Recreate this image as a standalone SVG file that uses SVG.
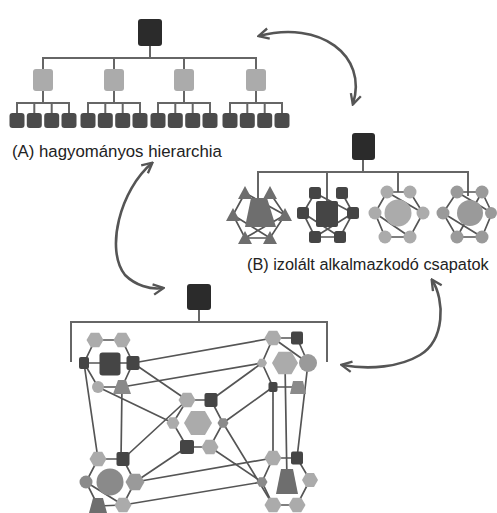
<svg xmlns="http://www.w3.org/2000/svg" width="497" height="513" viewBox="0 0 497 513">
<defs>
<style>
.ln{stroke:#666;stroke-width:2;fill:none}
.ln2{stroke:#555;stroke-width:1.7;fill:none}
.top{fill:#2b2b2b}
.mid{fill:#ababab}
.leaf{fill:#4b4b4b}
.lt{fill:#ababab}
.md{fill:#8a8a8a}
.m2{fill:#9a9a9a}
.t1{fill:#6e6e6e}
.dk{fill:#454545}
.arr{stroke:#555;stroke-width:2.6;fill:none;marker-start:url(#ah);marker-end:url(#ah)}
text{font-family:"Liberation Sans",Arial,sans-serif;font-size:17px;fill:#222}
</style>
<marker id="ah" viewBox="0 0 10 10" refX="8.5" refY="5" markerWidth="5" markerHeight="5" orient="auto-start-reverse" markerUnits="strokeWidth"><path d="M1,1 L9,5 L1,9" fill="none" stroke="#555" stroke-width="1.8"/></marker>
<path id="hx" d="M1,0L0.5,0.866L-0.5,0.866L-1,0L-0.5,-0.866L0.5,-0.866Z"/>
</defs>
<rect width="497" height="513" fill="#fff"/>

<g id="connectors">
<path class="ln" d="M150,46V58 M43,69V58H256V69 M114,58V69 M184,58V69"/>
<path class="ln" d="M43,91V103 M17,113V103H69V113 M34.3,103V113 M51.7,103V113"/>
<path class="ln" d="M114,91V103 M88,113V103H140V113 M105.3,103V113 M122.7,103V113"/>
<path class="ln" d="M184,91V103 M158,113V103H210V113 M175.3,103V113 M192.7,103V113"/>
<path class="ln" d="M256,91V103 M230,113V103H282V113 M247.3,103V113 M264.7,103V113"/>
<path class="ln" d="M363,160V172 M258,205V172H468V196 M327,172V205 M398,172V192"/>
<path class="ln2" d="M245,193L233,215L245,238L270,238L285,215L270,193 M245,193L285,215 M233,215L270,238 M245,238L285,215"/>
<path class="ln2" d="M315,193L303,213L315,237L340,237L353,213L342,193 M315,193L353,213 M303,213L340,237 M315,237L353,213"/>
<path class="ln2" d="M387,192L410,192L423,213L410,237L385,237L375,213Z M387,192L423,213 M375,213L410,237"/>
<path class="ln2" d="M457,192L482,192L492,213L482,237L457,237L443,213Z M457,192L492,213 M443,213L482,237 M482,192L457,237"/>
<path class="ln" d="M199,310V322 M71,362V322H327V362"/>
<path class="ln2" d="M95,340L122,340L133,363L122,387L98,387L84,363Z M84,363L133,363"/>
<path class="ln2" d="M187,400L211,400L223,423L210,447L187,447L173,423Z"/>
<path class="ln2" d="M98,459L123,459L135,482L123,505L98,506L86,482Z M86,482L123,505"/>
<path class="ln2" d="M273,338L297,338L308,363 M273,338L308,363 M273,338L262,363L273,387L298,387"/>
<path class="ln2" d="M273,458L297,458L310,480L297,505L273,505L262,482Z"/>
<path class="ln2" d="M133,363L273,338 M122,387L262,363 M133,363L187,400 M98,387L173,423 M84,363L98,459 M122,387L121,459 M123,459L187,400 M135,482L187,447 M135,482L273,458 M123,505L262,482 M211,400L262,363 M223,423L273,387 M223,423L273,505 M210,447L262,482 M273,387L273,458 M285,363L287,482 M308,363L297,458"/>
<path class="arr" d="M259,36 C320,20 368,55 353,104"/>
<path class="arr" d="M152,163 C120,190 105,250 125,275 C135,285 150,290 163,288"/>
<path class="arr" d="M432,280 C445,300 445,340 420,355 C400,367 370,370 342,365"/>
</g>

<g id="a-top"><rect class="top" x="138" y="19" width="24" height="27" rx="3"/></g>
<g id="a-m1"><rect class="mid" x="33" y="69" width="20" height="22" rx="3"/></g>
<g id="a-m2"><rect class="mid" x="104" y="69" width="20" height="22" rx="3"/></g>
<g id="a-m3"><rect class="mid" x="174" y="69" width="20" height="22" rx="3"/></g>
<g id="a-m4"><rect class="mid" x="246" y="69" width="20" height="22" rx="3"/></g>
<g id="a-leaves">
<rect class="leaf" x="9.5" y="113" width="15" height="15" rx="3"/>
<rect class="leaf" x="26.8" y="113" width="15" height="15" rx="3"/>
<rect class="leaf" x="44.2" y="113" width="15" height="15" rx="3"/>
<rect class="leaf" x="61.5" y="113" width="15" height="15" rx="3"/>
<rect class="leaf" x="80.5" y="113" width="15" height="15" rx="3"/>
<rect class="leaf" x="97.8" y="113" width="15" height="15" rx="3"/>
<rect class="leaf" x="115.2" y="113" width="15" height="15" rx="3"/>
<rect class="leaf" x="132.5" y="113" width="15" height="15" rx="3"/>
<rect class="leaf" x="150.5" y="113" width="15" height="15" rx="3"/>
<rect class="leaf" x="167.8" y="113" width="15" height="15" rx="3"/>
<rect class="leaf" x="185.2" y="113" width="15" height="15" rx="3"/>
<rect class="leaf" x="202.5" y="113" width="15" height="15" rx="3"/>
<rect class="leaf" x="222.5" y="113" width="15" height="15" rx="3"/>
<rect class="leaf" x="239.8" y="113" width="15" height="15" rx="3"/>
<rect class="leaf" x="257.2" y="113" width="15" height="15" rx="3"/>
<rect class="leaf" x="274.5" y="113" width="15" height="15" rx="3"/>
</g>
<text x="12" y="157" style="font-size:16.8px">(A) hagyományos hierarchia</text>

<g id="b-top"><rect class="top" x="352" y="133" width="23" height="27" rx="3"/></g>
<g id="b-team1" class="t1">
<polygon points="251,198 267,198 276,227 245,227"/>
<polygon points="245,186 252,199 238,199"/>
<polygon points="270,186 277,199 263,199"/>
<polygon points="233,208 240,221 226,221"/>
<polygon points="285,208 292,221 278,221"/>
<polygon points="245,231 252,244 238,244"/>
<polygon points="270,231 277,244 263,244"/>
</g>
<g id="b-team2" class="dk">
<rect x="316" y="201" width="22" height="26" rx="2"/>
<rect x="309" y="187" width="12" height="12" rx="2.5"/>
<rect x="336" y="187" width="12" height="12" rx="2.5"/>
<rect x="297" y="207" width="12" height="12" rx="2.5"/>
<rect x="347" y="207" width="12" height="12" rx="2.5"/>
<rect x="309" y="231" width="12" height="12" rx="2.5"/>
<rect x="334" y="231" width="12" height="12" rx="2.5"/>
</g>
<g id="b-team3" class="lt">
<circle cx="398" cy="213" r="13.5"/>
<circle cx="387" cy="192" r="6.5"/>
<circle cx="410" cy="192" r="6.5"/>
<circle cx="375" cy="213" r="6.5"/>
<circle cx="423" cy="213" r="6.5"/>
<circle cx="385" cy="237" r="6.5"/>
<circle cx="410" cy="237" r="6.5"/>
</g>
<g id="b-team4" class="m2">
<circle cx="470" cy="213" r="13"/>
<circle cx="457" cy="192" r="6.5"/>
<circle cx="482" cy="192" r="6.5"/>
<circle cx="443" cy="213" r="6.5"/>
<circle cx="491" cy="213" r="6"/>
<circle cx="457" cy="237" r="6.5"/>
<circle cx="482" cy="237" r="6.5"/>
</g>
<text x="247" y="270" style="font-size:16.3px">(B) izolált alkalmazkodó csapatok</text>

<g id="c-top"><rect class="top" x="187" y="284" width="24" height="26" rx="3"/></g>
<g id="c-cluster1">
<use href="#hx" class="lt" transform="translate(95,340) scale(8.5)"/>
<use href="#hx" class="lt" transform="translate(122,340) scale(8.5)"/>
<rect class="dk" x="79" y="357" width="10" height="12" rx="2"/>
<rect class="dk" x="126.5" y="356" width="13" height="14" rx="2"/>
<rect class="dk" x="99.5" y="352.5" width="21" height="23" rx="3"/>
<circle class="lt" cx="98" cy="387" r="6"/>
<polygon class="md" points="118,380 126,380 131,394 113,394"/>
</g>
<g id="c-cluster2">
<use href="#hx" class="lt" transform="translate(198,423) scale(14)"/>
<use href="#hx" class="lt" transform="translate(187,400) scale(8.5)"/>
<rect class="dk" x="204.5" y="393" width="13" height="14" rx="2"/>
<use href="#hx" class="lt" transform="translate(173,423) scale(6.5)"/>
<use href="#hx" class="md" transform="translate(223,423) scale(5.5)"/>
<rect class="dk" x="180" y="440" width="14" height="14" rx="2"/>
<use href="#hx" class="lt" transform="translate(210,447) scale(8.5)"/>
</g>
<g id="c-cluster3">
<use href="#hx" class="lt" transform="translate(98,459) scale(8.5)"/>
<rect class="dk" x="116.5" y="452" width="13" height="14" rx="2"/>
<circle class="md" cx="86" cy="482" r="6.5"/>
<use href="#hx" class="m2" transform="translate(135,482) scale(9.5)"/>
<circle class="md" cx="110" cy="482" r="13.5"/>
<polygon class="t1" points="93,498 103,498 107,513 89,513"/>
<use href="#hx" class="lt" transform="translate(123,505) scale(8.5)"/>
</g>
<g id="c-cluster4">
<use href="#hx" class="lt" transform="translate(273,338) scale(8.5)"/>
<rect class="dk" x="291" y="331.5" width="12" height="13" rx="2"/>
<use href="#hx" class="lt" transform="translate(285,363) scale(13)"/>
<use href="#hx" class="lt" transform="translate(262,363) scale(5)"/>
<circle class="m2" cx="308" cy="363" r="9"/>
<rect class="dk" x="268.5" y="382" width="9" height="10" rx="2"/>
<polygon class="md" points="293,381 303,381 306,394 290,394"/>
</g>
<g id="c-cluster5">
<use href="#hx" class="lt" transform="translate(273,458) scale(8.5)"/>
<rect class="dk" x="291" y="451.5" width="12" height="13" rx="2"/>
<polygon class="t1" points="281,469 293,469 298,494 276,494"/>
<use href="#hx" class="md" transform="translate(262,482) scale(5.5)"/>
<use href="#hx" class="lt" transform="translate(310,480) scale(8)"/>
<use href="#hx" class="lt" transform="translate(273,505) scale(8.5)"/>
<use href="#hx" class="lt" transform="translate(297,505) scale(8.5)"/>
</g>
</svg>
